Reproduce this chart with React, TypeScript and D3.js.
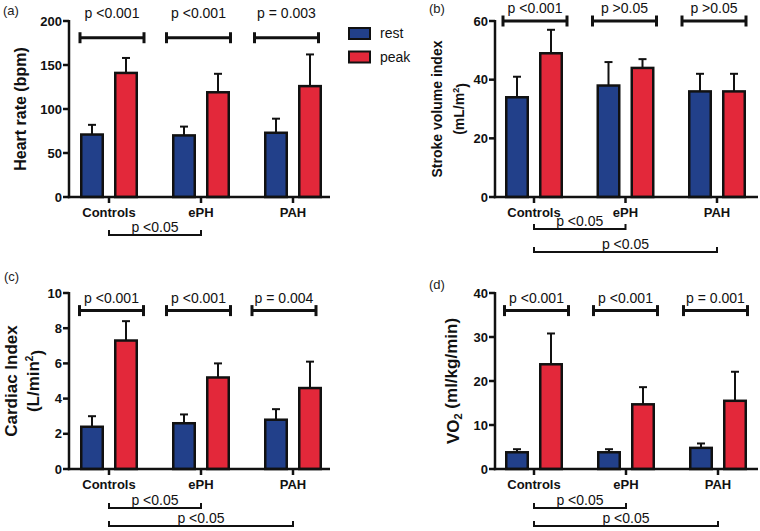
import React from "react";
import * as d3 from "d3";

// ---------- data ----------
const categories = ["Controls", "ePH", "PAH"];
const series = ["rest", "peak"];

const hrRest = [71, 70, 73];
const hrRestSD = [11, 10, 16];
const hrPeak = [141, 119, 126];
const hrPeakSD = [17, 21, 36];
const hrTicks = [0, 50, 100, 150, 200];
const hrP = ["p <0.001", "p <0.001", "p = 0.003"];
const hrBetween = [{ from: "Controls", to: "ePH", label: "p <0.05" }];

const svRest = [34, 38, 36];
const svRestSD = [7, 8, 6];
const svPeak = [49, 44, 36];
const svPeakSD = [8, 3, 6];
const svTicks = [0, 20, 40, 60];
const svP = ["p <0.001", "p >0.05", "p >0.05"];
const svBetween = [
  { from: "Controls", to: "ePH", label: "p <0.05" },
  { from: "Controls", to: "PAH", label: "p <0.05" },
];

const ciRest = [2.4, 2.6, 2.8];
const ciRestSD = [0.6, 0.5, 0.6];
const ciPeak = [7.3, 5.2, 4.6];
const ciPeakSD = [1.1, 0.8, 1.5];
const ciTicks = [0, 2, 4, 6, 8, 10];
const ciP = ["p <0.001", "p <0.001", "p = 0.004"];
const ciBetween = [
  { from: "Controls", to: "ePH", label: "p <0.05" },
  { from: "Controls", to: "PAH", label: "p <0.05" },
];

const voRest = [3.8, 3.8, 4.8];
const voRestSD = [0.7, 0.7, 1.0];
const voPeak = [23.8, 14.7, 15.5];
const voPeakSD = [7.0, 3.9, 6.6];
const voTicks = [0, 10, 20, 30, 40];
const voP = ["p <0.001", "p <0.001", "p = 0.001"];
const voBetween = [
  { from: "Controls", to: "ePH", label: "p <0.05" },
  { from: "Controls", to: "PAH", label: "p <0.05" },
];

const colors = { rest: "#22408a", peak: "#e3283a" };
const FONT = "'Liberation Sans', Arial, Helvetica, sans-serif";

type Between = { from: string; to: string; label: string };

type PanelProps = {
  tag: string;
  tagX: number;
  tagY: number;
  axisX: number;
  right: number;
  top: number;
  bottom: number;
  groupRange: [number, number];
  ticks: number[];
  rest: number[];
  restSD: number[];
  peak: number[];
  peakSD: number[];
  pLabels: string[];
  bracketValue: number;
  labelGap: number;
  topShift: number[];
  between: Between[];
  betweenOffsets: number[];
  yLabel: React.ReactNode[];
  yLabelX: number[];
  yLabelSize: number;
};

function Panel(p: PanelProps) {
  const y = d3
    .scaleLinear()
    .domain([0, p.ticks[p.ticks.length - 1]])
    .range([p.bottom, p.top]);
  const x = d3.scalePoint<string>().domain(categories).range(p.groupRange);
  const xs = d3.scalePoint<string>().domain(series).range([-17, 17]);
  const barW = 21.5;
  const capW = 8;
  const vals: Record<string, number[]> = { rest: p.rest, peak: p.peak };
  const sds: Record<string, number[]> = { rest: p.restSD, peak: p.peakSD };
  const midY = (p.top + p.bottom) / 2;
  const by = y(p.bracketValue);

  return (
    <g>
      <text x={p.tagX} y={p.tagY} fontSize={13} fontFamily={FONT} fill="#222">
        {p.tag}
      </text>
      {/* bars */}
      {categories.map((c, i) =>
        series.map((s) => {
          const cx = (x(c) as number) + (xs(s) as number);
          const v = vals[s][i];
          const top = y(v + sds[s][i]);
          return (
            <g key={c + s}>
              <line x1={cx} x2={cx} y1={y(v)} y2={top} stroke="#111" strokeWidth={2} />
              <line x1={cx - capW / 2} x2={cx + capW / 2} y1={top} y2={top} stroke="#111" strokeWidth={2} />
              <rect
                x={cx - barW / 2}
                y={y(v)}
                width={barW}
                height={p.bottom - y(v)}
                fill={colors[s as "rest" | "peak"]}
                stroke="#111"
                strokeWidth={2.5}
              />
            </g>
          );
        })
      )}
      {/* y axis */}
      <line x1={p.axisX} x2={p.axisX} y1={p.top - 1} y2={p.bottom + 1.2} stroke="#111" strokeWidth={2.5} />
      {p.ticks.map((t) => (
        <g key={t}>
          <line x1={p.axisX - 6} x2={p.axisX} y1={y(t)} y2={y(t)} stroke="#111" strokeWidth={2.5} />
          <text
            x={p.axisX - 7}
            y={y(t)}
            dy="0.36em"
            textAnchor="end"
            fontSize={13}
            fontWeight="bold"
            fontFamily={FONT}
            fill="#111"
          >
            {t}
          </text>
        </g>
      ))}
      {/* x axis */}
      <line x1={p.axisX - 1.2} x2={p.right} y1={p.bottom} y2={p.bottom} stroke="#111" strokeWidth={2.5} />
      {categories.map((c) => (
        <g key={c}>
          <line x1={x(c)} x2={x(c)} y1={p.bottom} y2={p.bottom + 6} stroke="#111" strokeWidth={2.5} />
          <text
            x={x(c)}
            y={p.bottom + 20}
            textAnchor="middle"
            fontSize={13}
            fontWeight="bold"
            fontFamily={FONT}
            fill="#111"
          >
            {c}
          </text>
        </g>
      ))}
      {/* y label */}
      {p.yLabel.map((l, i) => (
        <text
          key={i}
          transform={`translate(${p.yLabelX[i]},${midY}) rotate(-90)`}
          textAnchor="middle"
          dy="0.35em"
          fontSize={p.yLabelSize}
          fontWeight="bold"
          fontFamily={FONT}
          fill="#111"
        >
          {l}
        </text>
      ))}
      {/* within-group brackets */}
      {categories.map((c, i) => {
        const cx = (x(c) as number) + p.topShift[i];
        const hw = 32;
        return (
          <g key={"b" + c}>
            <line x1={cx - hw} x2={cx + hw} y1={by} y2={by} stroke="#111" strokeWidth={3} />
            <line x1={cx - hw} x2={cx - hw} y1={by - 5.5} y2={by + 5.5} stroke="#111" strokeWidth={3} />
            <line x1={cx + hw} x2={cx + hw} y1={by - 5.5} y2={by + 5.5} stroke="#111" strokeWidth={3} />
            <text
              x={cx}
              y={by - p.labelGap}
              textAnchor="middle"
              fontSize={14}
              fontFamily={FONT}
              fill="#111"
            >
              {p.pLabels[i]}
            </text>
          </g>
        );
      })}
      {/* between-group brackets */}
      {p.between.map((b, i) => {
        const x1 = x(b.from) as number;
        const x2 = x(b.to) as number;
        const ly = p.bottom + p.betweenOffsets[i];
        return (
          <g key={"bg" + i}>
            <path
              d={`M${x1},${ly - 5}V${ly}H${x2}V${ly - 5}`}
              fill="none"
              stroke="#111"
              strokeWidth={2}
            />
            <text
              x={(x1 + x2) / 2}
              y={ly - 3}
              textAnchor="middle"
              fontSize={14}
              fontFamily={FONT}
              fill="#111"
            >
              {b.label}
            </text>
          </g>
        );
      })}
    </g>
  );
}

function Legend() {
  return (
    <g>
      {series.map((s, i) => (
        <g key={s} transform={`translate(349,${28 + i * 23.5})`}>
          <rect x={0} y={0} width={21} height={11} fill={colors[s as "rest" | "peak"]} stroke="#111" strokeWidth={2} />
          <text x={31} y={10} fontSize={14} fontFamily={FONT} fill="#111">
            {s}
          </text>
        </g>
      ))}
    </g>
  );
}

export default function App() {
  return (
    <svg
      width={760}
      height={531}
      viewBox="0 0 760 531"
      style={{ position: "absolute", left: 0, top: 0, background: "#fff" }}
    >
      <rect width={760} height={531} fill="#fff" />
      <Panel
        tag="(a)"
        tagX={3}
        tagY={15}
        axisX={69}
        right={330}
        top={21}
        bottom={197}
        groupRange={[109, 293]}
        ticks={hrTicks}
        rest={hrRest}
        restSD={hrRestSD}
        peak={hrPeak}
        peakSD={hrPeakSD}
        pLabels={hrP}
        bracketValue={181}
        labelGap={20}
        topShift={[3, -2.5, -6.5]}
        between={hrBetween}
        betweenOffsets={[38]}
        yLabel={["Heart rate (bpm)"]}
        yLabelX={[20]}
        yLabelSize={16}
      />
      <Panel
        tag="(b)"
        tagX={429}
        tagY={13}
        axisX={495}
        right={758}
        top={21}
        bottom={197}
        groupRange={[534, 717]}
        ticks={svTicks}
        rest={svRest}
        restSD={svRestSD}
        peak={svPeak}
        peakSD={svPeakSD}
        pLabels={svP}
        bracketValue={60}
        labelGap={8.5}
        topShift={[1, -1, -3]}
        between={svBetween}
        betweenOffsets={[32, 55]}
        yLabel={[
          "Stroke volume index",
          <>
            (mL/m<tspan fontSize={9} dy="-0.6em">2</tspan>
            <tspan dy="0.6em">)</tspan>
          </>,
        ]}
        yLabelX={[437, 459]}
        yLabelSize={14}
      />
      <Panel
        tag="(c)"
        tagX={4}
        tagY={281}
        axisX={69}
        right={330}
        top={293}
        bottom={469}
        groupRange={[109, 293]}
        ticks={ciTicks}
        rest={ciRest}
        restSD={ciRestSD}
        peak={ciPeak}
        peakSD={ciPeakSD}
        pLabels={ciP}
        bracketValue={9}
        labelGap={7.5}
        topShift={[2.5, -2.5, -9]}
        between={ciBetween}
        betweenOffsets={[39, 57]}
        yLabel={[
          "Cardiac Index",
          <>
            (L/min<tspan fontSize={10} dy="-0.6em">2</tspan>
            <tspan dy="0.6em">)</tspan>
          </>,
        ]}
        yLabelX={[11, 33]}
        yLabelSize={17}
      />
      <Panel
        tag="(d)"
        tagX={429}
        tagY={289}
        axisX={495}
        right={758}
        top={293}
        bottom={469}
        groupRange={[534, 718]}
        ticks={voTicks}
        rest={voRest}
        restSD={voRestSD}
        peak={voPeak}
        peakSD={voPeakSD}
        pLabels={voP}
        bracketValue={36}
        labelGap={7.5}
        topShift={[2.5, -0.5, -2.5]}
        between={voBetween}
        betweenOffsets={[39, 57]}
        yLabel={[
          <>
            VO<tspan fontSize={11} dy="0.3em">2</tspan>
            <tspan dy="-0.3em">{"  "}(ml/kg/min)</tspan>
          </>,
        ]}
        yLabelX={[453]}
        yLabelSize={17}
      />
      <Legend />
    </svg>
  );
}
